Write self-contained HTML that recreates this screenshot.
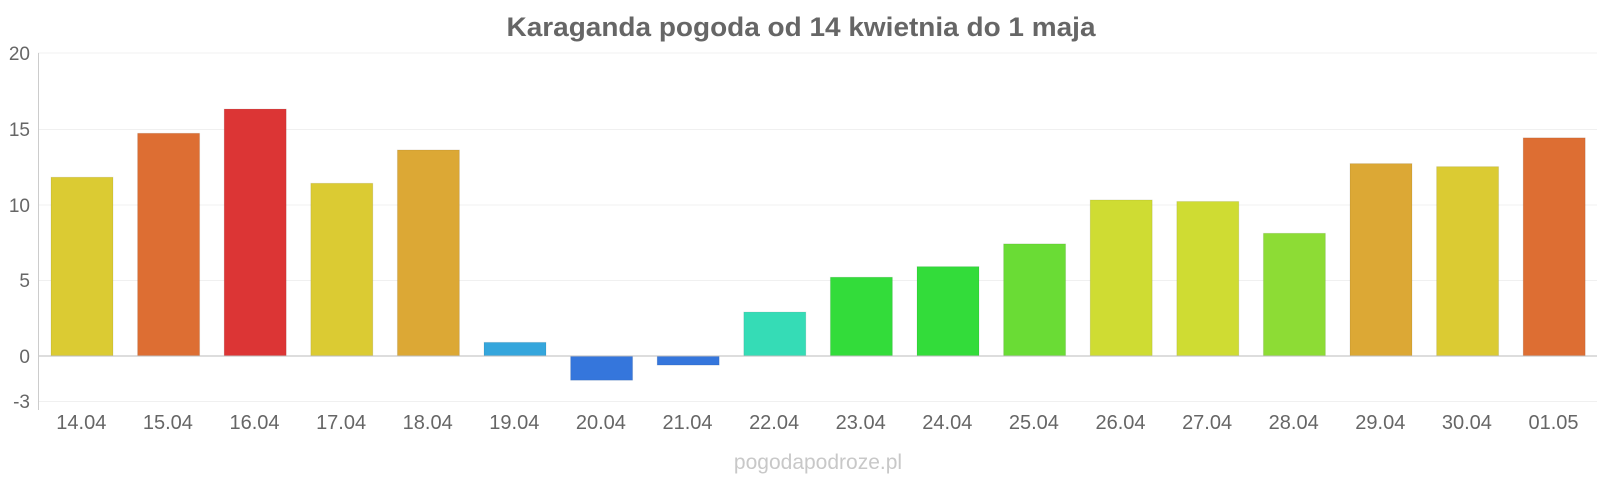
<!DOCTYPE html>
<html><head><meta charset="utf-8"><style>html,body{margin:0;padding:0;background:#fff}svg{display:block}</style></head>
<body>
<svg width="1600" height="480" xmlns="http://www.w3.org/2000/svg" font-family="Liberation Sans, Arial, sans-serif">
<text x="801" y="36" text-anchor="middle" font-size="27" font-weight="bold" fill="#666" textLength="589" lengthAdjust="spacingAndGlyphs">Karaganda pogoda od 14 kwietnia do 1 maja</text>
<g stroke="#f0f0f0" stroke-width="1">
<line x1="38" x2="1597" y1="53" y2="53"/><line x1="38" x2="1597" y1="129.5" y2="129.5"/>
<line x1="38" x2="1597" y1="205" y2="205"/><line x1="38" x2="1597" y1="280.5" y2="280.5"/>
<line x1="38" x2="1597" y1="401.5" y2="401.5"/>
</g>
<g font-size="19" fill="#666" text-anchor="end">
<text x="30" y="60">20</text><text x="30" y="136">15</text><text x="30" y="212">10</text>
<text x="30" y="287">5</text><text x="30" y="363">0</text><text x="30" y="408">-3</text>
</g>
<g id="bars"></g>
<line x1="38" x2="1597" y1="356" y2="356" stroke="#bbb"/>
<line x1="38.5" x2="38.5" y1="53" y2="410" stroke="#ccc"/>
<g id="labels" font-size="20" fill="#666" text-anchor="middle"></g>
<text x="818" y="469" text-anchor="middle" font-size="21" fill="#c8c8c8">pogodapodroze.pl</text>
<script>
var d=[["14.04",11.8,"#dbcb33"],["15.04",14.7,"#dd6e33"],["16.04",16.3,"#dc3535"],["17.04",11.4,"#dbcb33"],["18.04",13.6,"#dca835"],["19.04",0.9,"#35a6dc"],["20.04",-1.6,"#3576dc"],["21.04",-0.6,"#3576dc"],["22.04",2.9,"#35dcb6"],["23.04",5.2,"#33dc3a"],["24.04",5.9,"#33dc3a"],["25.04",7.4,"#6adc35"],["26.04",10.3,"#cfdc33"],["27.04",10.2,"#cfdc33"],["28.04",8.1,"#8ddc35"],["29.04",12.7,"#dca835"],["30.04",12.5,"#dbcb33"],["01.05",14.4,"#dd6e33"]];
var ns="http://www.w3.org/2000/svg",b=document.getElementById("bars"),l=document.getElementById("labels");
d.forEach(function(e,i){var x=38+i*86.6+13,y=356-e[1]*15.15,t=Math.min(y,356),h=Math.abs(356-y);
var r=document.createElementNS(ns,"rect");r.setAttribute("x",x);r.setAttribute("y",t);r.setAttribute("width",62);r.setAttribute("height",h);r.setAttribute("fill",e[2]);r.setAttribute("stroke","rgba(0,0,0,0.08)");b.appendChild(r);
var s=document.createElementNS(ns,"text");s.setAttribute("x",38+i*86.6+43.3);s.setAttribute("y",429);s.textContent=e[0];l.appendChild(s);});
</script>
</svg>
</body></html>
